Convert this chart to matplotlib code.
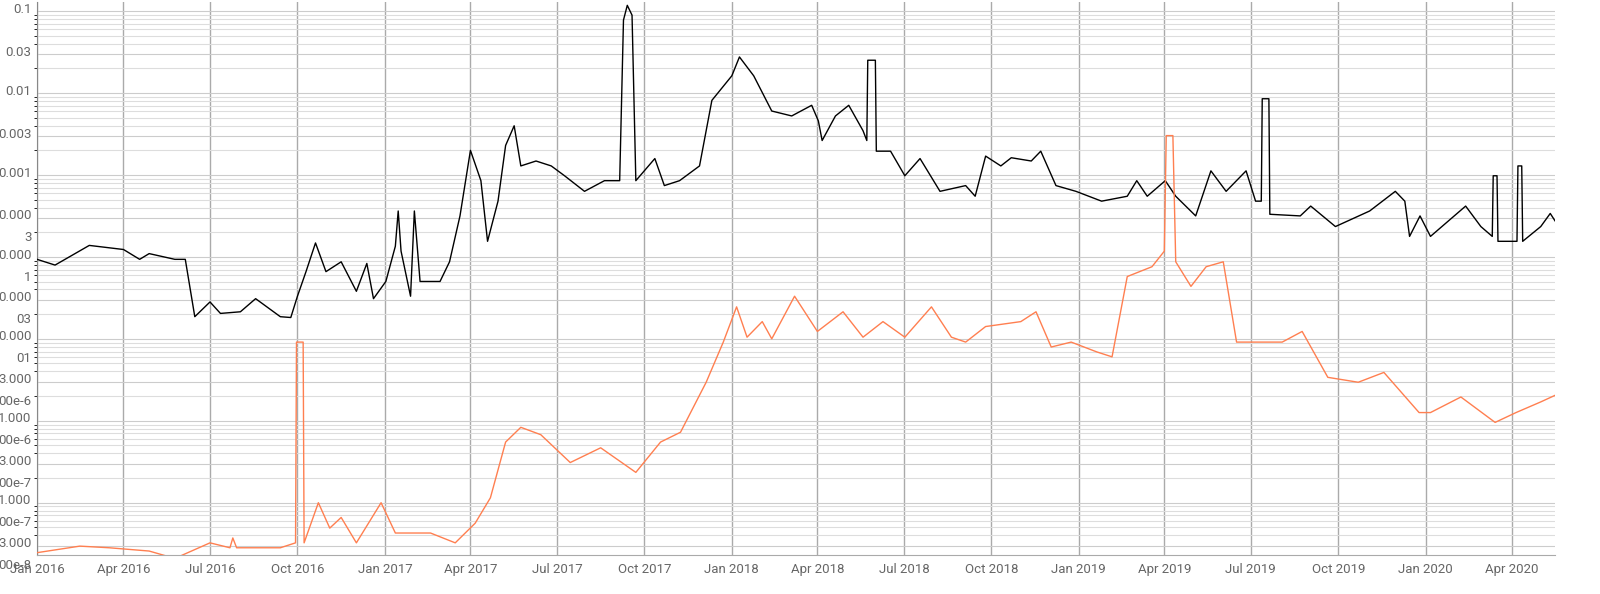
import matplotlib
matplotlib.use("Agg")
import matplotlib.pyplot as plt
import matplotlib.dates as mdates
import matplotlib.transforms as mtrans
from matplotlib.ticker import LogLocator, NullFormatter, FixedLocator
import numpy as np
import pandas as pd

black_dates = ["2016-01-01","2016-01-20","2016-02-25","2016-04-01","2016-04-18","2016-04-28","2016-05-25","2016-06-05","2016-06-15","2016-07-01","2016-07-12","2016-08-02","2016-08-18","2016-09-13","2016-09-24","2016-10-01","2016-10-10","2016-10-20","2016-10-31","2016-11-16","2016-12-02","2016-12-13","2016-12-20","2017-01-02","2017-01-12","2017-01-15","2017-01-18","2017-01-28","2017-02-01","2017-02-07","2017-02-28","2017-03-10","2017-03-21","2017-04-01","2017-04-12","2017-04-19","2017-04-30","2017-05-08","2017-05-17","2017-05-24","2017-06-09","2017-06-25","2017-07-09","2017-07-30","2017-08-20","2017-09-05","2017-09-09","2017-09-13","2017-09-18","2017-09-22","2017-10-12","2017-10-22","2017-11-07","2017-11-28","2017-12-11","2018-01-01","2018-01-09","2018-01-24","2018-02-12","2018-03-05","2018-03-26","2018-04-02","2018-04-06","2018-04-20","2018-05-04","2018-05-19","2018-05-23","2018-05-24","2018-06-01","2018-06-02","2018-06-17","2018-07-02","2018-07-18","2018-08-08","2018-09-04","2018-09-14","2018-09-25","2018-10-11","2018-10-22","2018-11-12","2018-11-22","2018-12-08","2018-12-29","2019-01-25","2019-02-21","2019-03-03","2019-03-14","2019-04-02","2019-04-13","2019-05-04","2019-05-20","2019-06-05","2019-06-26","2019-07-06","2019-07-12","2019-07-13","2019-07-20","2019-07-21","2019-08-22","2019-09-02","2019-09-28","2019-11-03","2019-11-30","2019-12-10","2019-12-15","2019-12-26","2020-01-06","2020-02-12","2020-02-28","2020-03-11","2020-03-12","2020-03-16","2020-03-17","2020-04-06","2020-04-07","2020-04-11","2020-04-12","2020-05-01","2020-05-11","2020-05-16"]
black_log10 = [-4.03,-4.10,-3.86,-3.91,-4.03,-3.96,-4.03,-4.03,-4.73,-4.55,-4.69,-4.67,-4.51,-4.73,-4.74,-4.48,-4.18,-3.83,-4.18,-4.06,-4.42,-4.08,-4.51,-4.30,-3.87,-3.44,-3.93,-4.48,-3.44,-4.30,-4.30,-4.06,-3.50,-2.70,-3.07,-3.81,-3.32,-2.64,-2.40,-2.89,-2.83,-2.89,-3.01,-3.20,-3.07,-3.07,-1.11,-0.93,-1.05,-3.07,-2.80,-3.13,-3.07,-2.89,-2.09,-1.79,-1.56,-1.79,-2.22,-2.28,-2.15,-2.34,-2.58,-2.28,-2.15,-2.46,-2.58,-1.60,-1.60,-2.71,-2.71,-3.01,-2.80,-3.20,-3.13,-3.26,-2.77,-2.89,-2.79,-2.83,-2.71,-3.13,-3.20,-3.32,-3.26,-3.07,-3.26,-3.07,-3.26,-3.50,-2.95,-3.20,-2.95,-3.32,-3.32,-2.07,-2.07,-3.48,-3.50,-3.38,-3.63,-3.44,-3.20,-3.32,-3.75,-3.50,-3.75,-3.38,-3.63,-3.75,-3.01,-3.01,-3.81,-3.81,-2.89,-2.89,-3.81,-3.63,-3.47,-3.56]

orange_dates = ["2016-01-01","2016-02-15","2016-03-17","2016-04-28","2016-05-25","2016-07-01","2016-07-22","2016-07-25","2016-07-29","2016-09-13","2016-09-29","2016-09-30","2016-10-07","2016-10-08","2016-10-23","2016-11-04","2016-11-16","2016-12-02","2016-12-28","2017-01-12","2017-02-18","2017-03-16","2017-04-06","2017-04-22","2017-05-08","2017-05-24","2017-06-14","2017-07-15","2017-08-16","2017-09-22","2017-10-18","2017-11-08","2017-12-05","2017-12-23","2018-01-06","2018-01-17","2018-02-02","2018-02-12","2018-03-08","2018-04-01","2018-04-28","2018-05-19","2018-06-09","2018-07-02","2018-07-30","2018-08-20","2018-09-04","2018-09-25","2018-11-01","2018-11-17","2018-12-03","2018-12-24","2019-01-20","2019-02-05","2019-02-21","2019-03-19","2019-04-01","2019-04-03","2019-04-10","2019-04-13","2019-04-29","2019-05-15","2019-06-02","2019-06-16","2019-08-03","2019-08-24","2019-09-20","2019-10-22","2019-11-18","2019-12-25","2020-01-06","2020-02-07","2020-03-14","2020-04-05","2020-05-01","2020-05-16"]
orange_log10 = [-7.61,-7.53,-7.55,-7.59,-7.68,-7.49,-7.55,-7.43,-7.55,-7.55,-7.49,-5.04,-5.04,-7.49,-7.00,-7.31,-7.18,-7.49,-7.00,-7.37,-7.37,-7.49,-7.25,-6.94,-6.26,-6.08,-6.17,-6.51,-6.33,-6.63,-6.26,-6.14,-5.53,-5.04,-4.61,-4.98,-4.79,-5.00,-4.48,-4.91,-4.67,-4.98,-4.79,-4.98,-4.61,-4.98,-5.04,-4.85,-4.79,-4.67,-5.10,-5.04,-5.16,-5.22,-4.24,-4.12,-3.93,-2.52,-2.52,-4.06,-4.36,-4.12,-4.06,-5.04,-5.04,-4.91,-5.47,-5.53,-5.41,-5.90,-5.90,-5.71,-6.02,-5.90,-5.77,-5.69]

ytick_values = [0.1,0.03,0.01,0.003,0.001,3e-4,1e-4,3e-5,1e-5,3e-6,1e-6,3e-7,1e-7,3e-8]
ytick_labels = ["0.1","0.03","0.01","0.003","0.001","0.000\n3","0.000\n1","0.000\n03","0.000\n01",
                "3.000\n00e-6","1.000\n00e-6","3.000\n00e-7","1.000\n00e-7","3.000\n00e-8"]

plt.rcParams['font.family'] = ['Roboto', 'DejaVu Sans']
fig = plt.figure(figsize=(16, 5.94), dpi=100)
ax = fig.add_axes([37/1600, (594-555)/594, (1555-37)/1600, 553/594])

bd = pd.to_datetime(black_dates)
od = pd.to_datetime(orange_dates)
ax.plot(bd, 10**np.array(black_log10), color='black', lw=1.0, zorder=3)
ax.plot(od, 10**np.array(orange_log10), color='#ff7f50', lw=1.0, zorder=3)

ax.set_yscale('log')
ax.set_ylim(2.3e-8, 0.129)
ax.set_xlim(pd.Timestamp("2016-01-01"), pd.Timestamp("2020-05-16"))
ax.yaxis.set_major_locator(FixedLocator(ytick_values))
ax.set_yticklabels(ytick_labels)
ax.yaxis.set_minor_locator(LogLocator(base=10, subs=np.arange(2, 10)))
ax.yaxis.set_minor_formatter(NullFormatter())
ax.grid(True, which='major', axis='y', color='#cccccc', lw=0.8)
ax.grid(True, which='minor', axis='y', color='#dddddd', lw=0.8)
ax.xaxis.set_major_locator(mdates.MonthLocator(bymonth=[1, 4, 7, 10]))
ax.xaxis.set_major_formatter(mdates.DateFormatter('%b %Y'))
ax.grid(True, which='major', axis='x', color='#aaaaaa', lw=1)
ax.tick_params(length=0, labelsize=9.5, labelcolor='#666666')
ax.tick_params(axis='y', pad=4)
ax.tick_params(axis='x', pad=6)
off = mtrans.ScaledTranslation(0, 6/72, fig.dpi_scale_trans)
for lab in ax.get_yticklabels():
    lab.set_verticalalignment('top')
    lab.set_horizontalalignment('right')
    lab.set_linespacing(1.9)
    lab.set_transform(lab.get_transform() + off)
for s in ['top', 'right']:
    ax.spines[s].set_visible(False)
ax.spines['left'].set_color('#888888')
ax.spines['bottom'].set_color('#aaaaaa')
fig.savefig('out.png', dpi=100)
